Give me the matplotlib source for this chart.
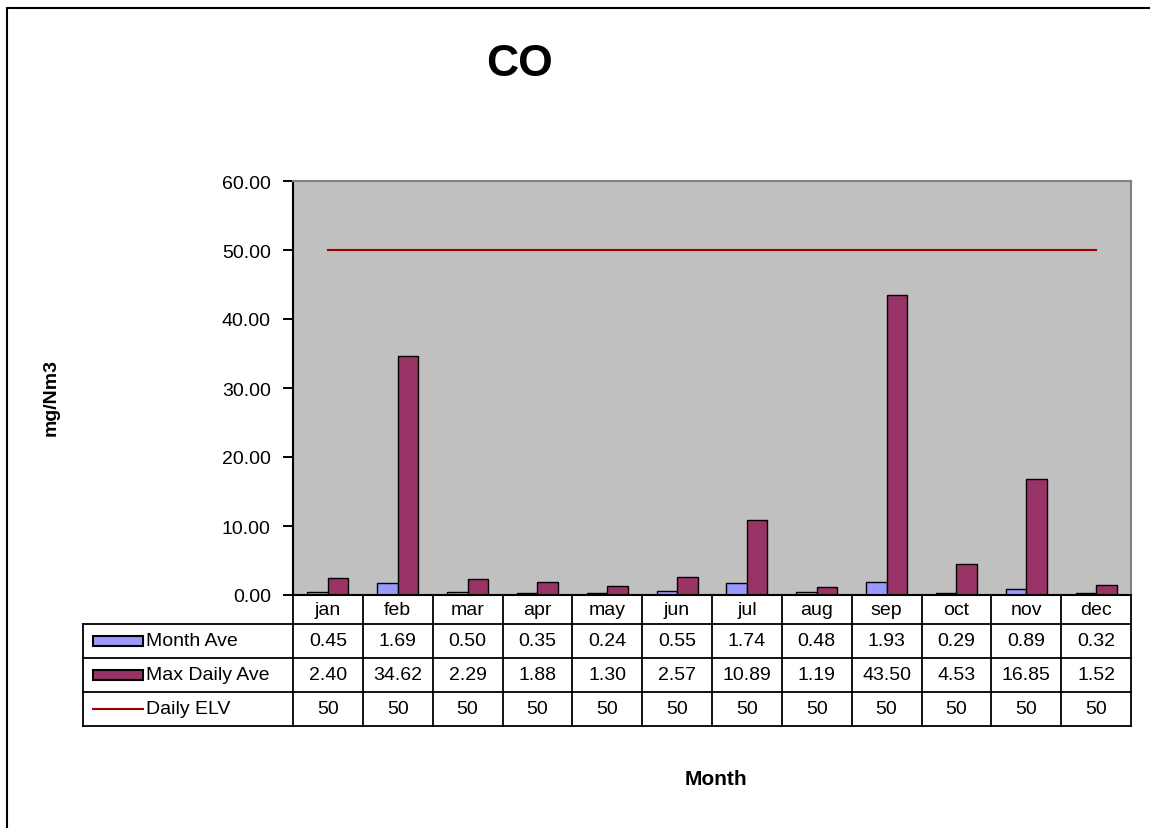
import matplotlib
matplotlib.use("Agg")
import matplotlib.pyplot as plt
import matplotlib.transforms as mtransforms
from matplotlib.patches import Rectangle
from matplotlib.lines import Line2D
import numpy as np

plt.rcParams['font.family'] = ['Liberation Sans', 'DejaVu Sans']

months = ["jan", "feb", "mar", "apr", "may", "jun", "jul", "aug", "sep", "oct", "nov", "dec"]
month_ave = [0.45, 1.69, 0.50, 0.35, 0.24, 0.55, 1.74, 0.48, 1.93, 0.29, 0.89, 0.32]
max_daily_ave = [2.40, 34.62, 2.29, 1.88, 1.30, 2.57, 10.89, 1.19, 43.50, 4.53, 16.85, 1.52]
daily_elv = [50] * 12
yticks = [0, 10, 20, 30, 40, 50, 60]
series_names = ["Month Ave", "Max Daily Ave", "Daily ELV"]

W, H = 1150, 829
fig = plt.figure(figsize=(W / 100, H / 100), dpi=100)

def fy(py):
    return 1 - py / H

# outer chart border (right/bottom edges fall outside the image)
fig.patches.append(Rectangle((7 / W, fy(850)), 1160 / W, 841 / H, transform=fig.transFigure,
                             fill=False, edgecolor='black', linewidth=1.5, clip_on=False))

L, R, T, B = 293, 1131, 182, 596
ax = fig.add_axes([L / W, 1 - B / H, (R - L) / W, (B - T) / H])
ax.set_facecolor('#C0C0C0')

x = np.arange(len(months))
bw = 0.294
ax.bar(x - bw / 2, month_ave, bw, color='#9999FF', edgecolor='black', linewidth=1)
ax.bar(x + bw / 2, max_daily_ave, bw, color='#993366', edgecolor='black', linewidth=1)
ax.plot(x, daily_elv, color='#A00000', linewidth=1.5)

ax.set_xlim(-0.5, 11.5)
ax.set_ylim(0, 60)
ax.set_yticks(yticks)
ax.set_yticklabels([f"{v:.2f}" for v in yticks], fontsize=14)
ax.set_xticks([])
ax.tick_params(axis='y', direction='out', length=7, width=1.4, pad=9)
for s in ['top', 'right']:
    ax.spines[s].set_color('#808080')
    ax.spines[s].set_linewidth(1.5)
for s in ['left', 'bottom']:
    ax.spines[s].set_color('black')
    ax.spines[s].set_linewidth(1.5)

# data table
ph = B - T
row_edges = [596, 625, 659, 693, 727]  # pixel y of table row boundaries
ry = [-(p - B) / ph for p in row_edges]  # axes fraction
trans = mtransforms.blended_transform_factory(ax.transData, ax.transAxes)
lw = 1.3
col_w = (R - L) / 12
xl_table = -0.5 - (L - 83) / col_w  # left edge of label column in data units
lines_kw = dict(color='black', linewidth=lw, transform=trans, clip_on=False)

for i, m in enumerate(months):
    ax.text(i, (ry[0] + ry[1]) / 2, m, transform=trans, ha='center', va='center', fontsize=14)
for i in range(13):
    ax.add_line(Line2D([i - 0.5, i - 0.5], [ry[0], ry[4]], **lines_kw))
ax.add_line(Line2D([xl_table, 11.5], [ry[1], ry[1]], **lines_kw))
for k in range(2, 5):
    ax.add_line(Line2D([xl_table, 11.5], [ry[k], ry[k]], **lines_kw))
ax.add_line(Line2D([xl_table, xl_table], [ry[1], ry[4]], **lines_kw))

table_rows = [
    [f"{v:.2f}" for v in month_ave],
    [f"{v:.2f}" for v in max_daily_ave],
    [f"{v:g}" for v in daily_elv],
]
for r, vals in enumerate(table_rows):
    yc = (ry[r + 1] + ry[r + 2]) / 2
    for i, v in enumerate(vals):
        ax.text(i, yc, v, transform=trans, ha='center', va='center', fontsize=14)

# legend keys inside the table
key_x0, key_x1 = 93, 143
centers = [(row_edges[r + 1] + row_edges[r + 2]) / 2 for r in range(3)]
fig.patches.append(Rectangle((key_x0 / W, fy(centers[0] + 5)), (key_x1 - key_x0) / W, 10 / H,
                             transform=fig.transFigure, facecolor='#9999FF', edgecolor='black', linewidth=1.5))
fig.patches.append(Rectangle((key_x0 / W, fy(centers[1] + 5)), (key_x1 - key_x0) / W, 10 / H,
                             transform=fig.transFigure, facecolor='#993366', edgecolor='black', linewidth=1.5))
fig.lines.append(Line2D([key_x0 / W, key_x1 / W], [fy(centers[2]), fy(centers[2])], transform=fig.transFigure,
                        color='#A00000', linewidth=1.5))
for r, name in enumerate(series_names):
    fig.text(146 / W, fy(centers[r]), name, ha='left', va='center', fontsize=14)

fig.text(520 / W, fy(64), "CO", ha='center', va='center', fontsize=32, fontweight='bold')
fig.text(51 / W, fy(398), "mg/Nm3", ha='center', va='center', rotation=90, fontsize=14, fontweight='bold')
fig.text(716 / W, fy(780), "Month", ha='center', va='center', fontsize=15, fontweight='bold')

fig.savefig("out.png", dpi=100)
